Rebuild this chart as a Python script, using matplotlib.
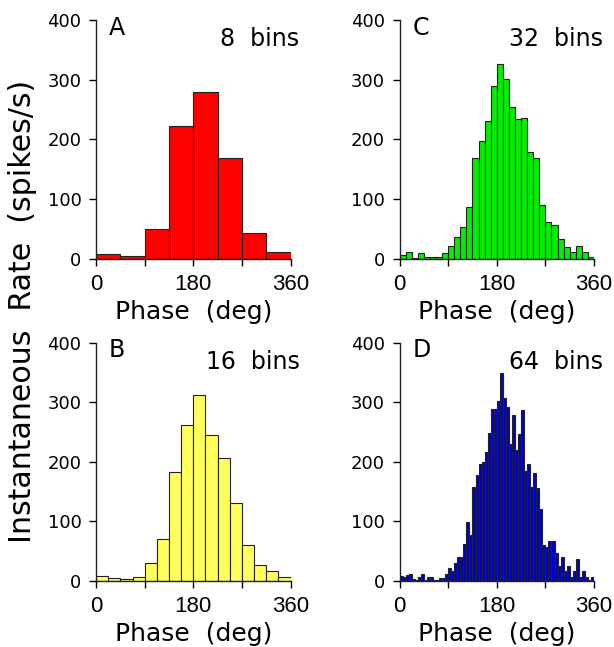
import matplotlib
matplotlib.use('Agg')
import matplotlib.pyplot as plt
import numpy as np

# Rate per phase bin (spikes/s)
rate_8 = [7, 4, 49, 222, 279, 168, 43, 12]
rate_16 = [8, 5, 3, 6, 29, 70, 183, 261, 312, 244, 207, 130, 60, 26, 16, 7]
rate_32 = [6, 11, 1, 9, 2, 2, 2, 9, 22, 36, 53, 87, 169, 198, 231, 290,
           326, 301, 254, 234, 236, 178, 169, 90, 62, 56, 33, 20, 11, 22, 11, 2]
rate_64 = [8, 6, 10, 12, 3, 1, 6, 12, 1, 6, 6, 1, 1, 5, 5, 12,
           22, 17, 30, 39, 39, 62, 98, 76, 158, 178, 196, 200, 216, 248, 289, 289,
           302, 349, 307, 292, 229, 279, 220, 247, 286, 184, 196, 158, 181, 156, 120, 60,
           57, 66, 66, 47, 25, 40, 16, 25, 6, 16, 37, 6, 16, 6, 1, 6]

panel_letters = ['A', 'C', 'B', 'D']
panel_rates = [rate_8, rate_32, rate_16, rate_64]
panel_colors = ['#ff0000', '#00ee00', '#ffff5e', '#0000cc']

x_ticks = [0, 90, 180, 270, 360]
x_ticklabels = ['0', '', '180', '', '360']
y_ticks = [0, 100, 200, 300, 400]

# axes boxes in figure fractions (left, bottom, width, height)
boxes = [
    [0.1564, 0.6002, 0.3168, 0.3689],
    [0.6507, 0.6002, 0.3168, 0.3689],
    [0.1564, 0.1025, 0.3168, 0.3679],
    [0.6507, 0.1025, 0.3168, 0.3679],
]

fig = plt.figure(figsize=(6.14, 6.47), dpi=100)

for box, letter, rates, color in zip(boxes, panel_letters, panel_rates, panel_colors):
    ax = fig.add_axes(box)
    n = len(rates)
    width = 360 / n
    edges = np.arange(n) * width
    ax.bar(edges, rates, width=width, align='edge', color=color,
           edgecolor='#222222', linewidth=0.8, zorder=2)

    ax.set_xlim(0, 360)
    ax.set_ylim(0, 400)
    for side in ['top', 'right']:
        ax.spines[side].set_visible(False)
    for side in ['left', 'bottom']:
        ax.spines[side].set_linewidth(1.0)
        ax.spines[side].set_color('#222222')
        ax.spines[side].set_zorder(3)

    ax.set_xticks(x_ticks)
    ax.set_xticklabels(x_ticklabels, family='Liberation Sans', fontsize=16)
    ax.set_yticks(y_ticks)
    ax.set_yticklabels([str(v) for v in y_ticks], family='DejaVu Sans', fontsize=13)
    ax.tick_params(axis='x', direction='out', length=5, width=1, pad=6)
    ax.tick_params(axis='y', direction='out', length=5, width=1, pad=5.5)

    ax.text(0.5, -0.252, 'Phase  (deg)', transform=ax.transAxes, ha='center',
            va='baseline', family='DejaVu Sans', fontsize=18)
    ax.text(0.065, 0.938, letter, transform=ax.transAxes, ha='left',
            va='baseline', family='DejaVu Sans', fontsize=17)
    ax.text(1.046, 0.89, f'{n}  bins', transform=ax.transAxes, ha='right',
            va='baseline', family='DejaVu Sans', fontsize=17, clip_on=False)

fig.text(0.036, 0.518, 'Instantaneous  Rate  (spikes/s)', rotation=90,
         ha='center', va='center', family='DejaVu Sans', fontsize=21.6)

fig.savefig('out.png', dpi=100)
